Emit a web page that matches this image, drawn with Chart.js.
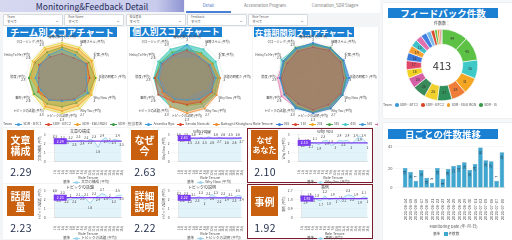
<!DOCTYPE html>
<html>
<head>
<meta charset="utf-8">
<script src="https://cdn.jsdelivr.net/npm/chart.js@4.4.0/dist/chart.umd.min.js"></script>
<style>
  body { margin:0; width:512px; height:240px; overflow:hidden; background:#f3f4f6; position:relative;
         font-family:"Noto Sans CJK JP","Noto Sans",sans-serif; }
  .abs { position:absolute; }
  .card { position:absolute; background:#fff; }
  .ttl { position:absolute; background:#1b7fd2; color:#fff; font-weight:bold; text-align:center;
         height:10px; line-height:10px; white-space:nowrap; overflow:hidden; }
  .flt { position:absolute; top:14px; height:10px; width:58px; background:#fff; border:1px solid #d6d9de; border-radius:1px; }
  .flt .l { position:absolute; left:3px; top:0px; font-size:3px; color:#666; line-height:4px; }
  .flt .v { position:absolute; left:3px; top:4px; font-size:3.5px; color:#333; line-height:5px; }
  .flt .c { position:absolute; right:3px; top:1px; font-size:5px; color:#666; }
  .leg { position:absolute; font-size:3.6px; color:#555; white-space:nowrap; overflow:hidden; line-height:5px; }
  .leg i { display:inline-block; width:7px; height:1px; vertical-align:middle; margin:0 1px 0 3px; position:relative; }
  .leg i:after { content:""; position:absolute; left:2px; top:-1px; width:3px; height:3px; border-radius:50%; background:inherit; }
  .leg b { display:inline-block; width:3.5px; height:3.5px; border-radius:50%; vertical-align:middle; margin:0 1px 0 3px; }
  .kbox { position:absolute; background:#c9600f; color:#fff; font-weight:bold; font-size:10px; line-height:11px;
          text-align:center; display:flex; align-items:center; justify-content:center; }
  .kval { position:absolute; font-size:10.5px; color:#1e2a48; text-align:center; letter-spacing:0.3px; }
</style>
</head>
<body>
<div id="root"></div>
<script>
// --- Datos ---
const filterNames = ['Team', 'Role Name', '担当者名', 'Feedback', 'Role Tenure'];
const tabNames = ['Detail', 'Acceleration Program', 'Correlation_SDR Stage9'];

const radarAxes = ['質問の振り方 (平均)', '傾聴スキル (平均)', '提案 (平均)', '主題の明確さ (平均)', 'Why Now (平均)',
  'Why You (平均)', 'トピックの説明 (平均)', 'トピックの話題 (平均)', '事例 (平均)', '態度 (平均)',
  'Hello/To Me (平均)', 'クロージング (平均)'];
const radarAxisNotes = ['3', '3', '3', '3', '3', '2.7', '2.8', '2.8', '2.6', '2.8', '2.6', '2.8'];

const teamNames = ['SDR - BTC1', 'SDR - BTC2', 'SDR - EBU RGN', 'SDR - IS', 'SDR - ENT'];
const teamColors = ['#3a9ad6', '#d9472b', '#f0a02a', '#3c9a4a', '#e6d23a'];
const teamBtc1 = [2.6, 2.4, 2.5, 2.2, 2.7, 2.3, 2.1, 2.3, 2.2, 2.4, 2.3, 2.4];
const teamBtc2 = [2.2, 2.1, 2.6, 2.5, 2.4, 2.2, 2.0, 2.3, 2.5, 2.1, 2.4, 2.2];
const teamEbu  = [3.0, 3.0, 3.1, 2.9, 3.0, 2.9, 3.0, 3.0, 2.4, 2.8, 2.9, 3.0];
const teamIs   = [2.8, 2.7, 2.8, 3.0, 2.8, 2.6, 2.6, 2.7, 2.9, 3.0, 2.8, 2.7];
const teamEnt  = [3.2, 3.2, 3.2, 3.1, 3.1, 3.2, 3.2, 3.2, 3.0, 3.0, 3.1, 3.2];

const personNames = ['Amerika Ryo', 'Sendo Natsuki', 'Battaghi Khatglonas', 'Kato Yui', 'Mori Ken', 'Aoki Rin'];
const personColors = ['#3a9ad6', '#d9472b', '#f08c30', '#5ab04a', '#e2e23a', '#3cc8b8'];
const personA = [3.0, 2.2, 2.4, 2.6, 2.5, 2.2, 2.0, 2.2, 2.4, 2.6, 2.7, 2.5];
const personB = [2.5, 2.2, 2.3, 2.4, 2.6, 2.5, 2.4, 2.5, 3.0, 2.9, 2.6, 2.4];
const personC = [2.4, 2.5, 2.6, 3.0, 3.1, 3.2, 3.2, 3.0, 2.6, 2.4, 2.5, 2.4];
const personD = [2.6, 2.6, 2.7, 2.8, 2.9, 2.7, 2.5, 2.4, 2.5, 2.9, 2.8, 2.7];
const personE = [1.7, 2.2, 2.3, 2.2, 2.0, 1.5, 1.8, 2.0, 2.1, 2.3, 2.3, 2.1];
const personF = [3.0, 3.0, 3.0, 3.0, 3.0, 3.0, 3.0, 3.0, 3.0, 3.0, 3.0, 3.0];

const tenureNames = ['0日', '1日', '2日', '3日', '4日', '5日', '6日', '7日', '8日'];
const tenureColors = ['#3a7fd5', '#d9472b', '#f2a81c', '#4aa54a', '#45c7c7', '#3a9ad6', '#e070a8', '#f08c30', '#7bc043'];
const tenure0 = [3.1, 3.0, 3.1, 3.2, 3.0, 3.1, 3.1, 3.0, 2.9, 2.9, 3.0, 3.0];
const tenure1 = [2.7, 2.8, 2.8, 2.7, 2.8, 2.7, 2.8, 2.6, 2.7, 2.8, 2.6, 2.7];
const tenure2 = [2.8, 2.9, 2.9, 2.8, 2.8, 2.8, 2.9, 2.8, 2.8, 2.8, 2.8, 2.8];
const tenure3 = [3.0, 3.1, 3.0, 2.9, 3.0, 3.1, 3.0, 3.0, 2.9, 2.8, 3.0, 3.1];
const tenure4 = [3.0, 2.9, 3.0, 3.0, 2.9, 2.8, 2.9, 2.9, 2.8, 2.9, 3.2, 3.0];
const tenure5 = [2.9, 3.0, 3.1, 3.1, 2.9, 2.9, 3.0, 3.1, 2.8, 2.9, 2.9, 2.9];
const tenure6 = [2.8, 2.8, 2.9, 2.9, 2.9, 3.0, 3.0, 3.0, 3.2, 3.1, 3.0, 2.8];

const donutCounts = [49, 45, 35, 31, 28, 27, 25, 25, 20, 16, 17, 15, 14, 13, 12, 11, 9, 7, 5, 4, 3, 2];
const donutColors = ['#5cc144', '#5cc144', '#3ec9c6', '#f5a623', '#ee7d3a', '#2f8f5b', '#f1d12e', '#3a8a5a',
  '#d45fa6', '#f0d020', '#e04868', '#3a78d8', '#f5a030', '#40c0c8', '#e070b0', '#4080e0', '#7ab8e8',
  '#d9472b', '#5cc144', '#f08c30', '#d9472b', '#aaaaaa'];
const donutTotal = '413';

const dailyDates = ['2021-06-14', '2021-06-15', '2021-06-16', '2021-06-17', '2021-06-18', '2021-06-21', '2021-06-22',
  '2021-06-23', '2021-06-24', '2021-06-25', '2021-06-28', '2021-06-29', '2021-06-30', '2021-07-01', '2021-07-02',
  '2021-07-05', '2021-07-06', '2021-07-07', '2021-07-08'];
const dailyCounts = [20, 16, 7, 18, 10, 5, 20, 9, 19, 22, 23, 26, 18, 24, 41, 28, 27, 7, 36];

const tenureTicks = ['1月', '2月', '3月', '4月', '5月', '6月', '7月', '8月', '9月', '10月', '11月', '12月', '13月', '14月', '15月', '16月', '17月', '18月'];
const kpiLabels = ['文章<br>構成', 'なぜ<br>今', 'なぜ<br>あなた', '話題<br>量', '詳細<br>説明', '事例'];
const kpiValues = [2.29, 2.63, 2.10, 2.23, 2.22, 1.92];
const lineTitles = ['文章の構成', 'Why Now', 'Why You', 'トピックの話題', 'トピックの説明', '事例'];
const scoreKousei   = [2.3, 2.5, 2.2, 2.5, 2.2, 2.3, 2.3, 2.4, 2.2, 2.5, 2.3, 1.6, 2.4, 2.7, 2.0, 2.5, 2.4, 2.3];
const scoreWhyNow   = [2.6, 2.8, 2.5, 2.5, 2.6, 2.5, 2.7, 2.5, 2.8, 2.6, 2.6, 2.7, 2.6, 2.6, 2.5, 2.6, 2.6, 2.7];
const scoreWhyYou   = [2.0, 2.2, 1.9, 2.1, 2.1, 1.9, 2.3, 2.4, 1.8, 2.0, 2.4, 2.3, 2.4, 2.0, 2.4, 2.9, 2.4, 2.0];
const scoreWadai    = [2.6, 2.3, 2.3, 2.2, 2.0, 2.2, 2.1, 2.5, 2.1, 1.6, 2.2, 2.4, 2.7, 2.5, 2.0, 2.2, 2.5, 2.5];
const scoreSetsumei = [2.2, 2.3, 2.2, 2.2, 2.1, 2.3, 2.3, 2.0, 2.2, 2.6, 2.3, 2.2, 2.2, 2.4, 2.1, 2.3, 2.5, 2.4];
const scoreJirei    = [1.7, 1.9, 1.9, 2.1, 1.8, 1.7, 2.2, 1.8, 1.9, 2.0, 1.6, 2.1, 2.3, 2.2, 1.9, 1.9, 2.1, 2.0];
const lineScores = [scoreKousei, scoreWhyNow, scoreWhyYou, scoreWadai, scoreSetsumei, scoreJirei];
const lineMax = [3, 3, 3, 3, 3, 2.7];
const lineStep = [1, 1, 1, 1, 1, 0.9];

// --- Defaults ---
const FONT = '"Noto Sans CJK JP","Noto Sans",sans-serif';
Chart.defaults.font.family = FONT;
Chart.defaults.font.size = 4;
Chart.defaults.color = '#555';
Chart.defaults.animation = false;
Chart.defaults.maintainAspectRatio = false;
Chart.defaults.plugins.legend.display = false;
Chart.defaults.plugins.tooltip.enabled = false;

const root = document.getElementById('root');
function el(tag, cls, css, html) {
  const d = document.createElement(tag);
  if (cls) d.className = cls;
  if (css) d.style.cssText = css;
  if (html !== undefined) d.innerHTML = html;
  root.appendChild(d);
  return d;
}
function canvasAt(x, y, w, h) {
  const box = el('div', 'abs', `left:${x}px;top:${y}px;width:${w}px;height:${h}px;`);
  const c = document.createElement('canvas');
  box.appendChild(c);
  return c;
}

// --- Plugins propios ---
const valueLabels = {
  id: 'valueLabels',
  afterDatasetsDraw(chart, args, o) {
    if (!o || !o.mode) return;
    const ctx = chart.ctx;
    ctx.save();
    ctx.font = `${o.size || 3.5}px ${FONT}`;
    ctx.fillStyle = o.color || '#333';
    ctx.textAlign = 'center';
    ctx.textBaseline = 'middle';
    const ds = chart.data.datasets[0];
    chart.getDatasetMeta(0).data.forEach((e, i) => {
      const v = ds.data[i];
      if (o.mode === 'arc') {
        if (v < 13) return;
        const p = e.tooltipPosition();
        ctx.fillText(v, p.x, p.y);
      } else if (o.mode === 'bar') {
        ctx.save();
        ctx.translate(e.x, e.y + (v < 8 ? -4 : 5));
        ctx.rotate(-Math.PI / 2);
        ctx.fillText(v, 0, 0);
        ctx.restore();
      } else {
        ctx.fillText(v, e.x, e.y + (i % 2 ? 4 : -4));
      }
    });
    ctx.restore();
  }
};
const refLine = {
  id: 'refLine',
  afterDatasetsDraw(chart, args, o) {
    if (!o || o.value === undefined) return;
    const ctx = chart.ctx, a = chart.chartArea;
    const y = chart.scales.y.getPixelForValue(o.value);
    ctx.save();
    ctx.strokeStyle = '#7b3cf0';
    ctx.lineWidth = 1.2;
    ctx.beginPath(); ctx.moveTo(a.left, y); ctx.lineTo(a.right, y); ctx.stroke();
    ctx.fillStyle = '#7b3cf0';
    ctx.fillRect(a.left - 1, y - 3, 13, 6);
    ctx.fillStyle = '#fff';
    ctx.font = `3.5px ${FONT}`;
    ctx.textAlign = 'center'; ctx.textBaseline = 'middle';
    ctx.fillText(o.value.toFixed(2), a.left + 5.5, y);
    ctx.restore();
  }
};
const centerText = {
  id: 'centerText',
  afterDraw(chart, args, o) {
    if (!o || !o.text) return;
    const a = chart.chartArea, ctx = chart.ctx;
    ctx.save();
    ctx.font = `11px ${FONT}`;
    ctx.fillStyle = '#333';
    ctx.textAlign = 'center'; ctx.textBaseline = 'middle';
    ctx.fillText(o.text, (a.left + a.right) / 2, (a.top + a.bottom) / 2 + 1);
    ctx.restore();
  }
};
Chart.register(valueLabels, refLine, centerText);

function alpha(hex, a) {
  const n = parseInt(hex.slice(1), 16);
  return `rgba(${n >> 16},${(n >> 8) & 255},${n & 255},${a})`;
}

// --- Cabecera ---
el('div', 'abs', 'left:0;top:0;width:184px;height:12px;background:linear-gradient(90deg,#d6d8f0,#c8cbec 85%,#8e94d2);' +
  'color:#262a58;font-size:8.5px;line-height:12px;text-align:center;', 'Monitoring&amp;Feedback Detail');
el('div', 'abs', 'left:185px;top:0;width:195px;height:13px;background:#fff;');
const tabX = [186, 232, 300];
const tabW = [45, 66, 70];
tabNames.forEach((t, i) => {
  el('div', 'abs', `left:${tabX[i]}px;top:2px;width:${tabW[i]}px;text-align:center;font-size:4.2px;line-height:6px;color:${i === 0 ? '#4a78c8' : '#777'};`, t);
});
el('div', 'abs', 'left:186px;top:11px;width:45px;height:1.5px;background:#4a7fd8;');
el('div', 'abs', 'left:380px;top:0;width:132px;height:240px;background:#f6f7f9;');

filterNames.forEach((f, i) => {
  const d = el('div', 'flt', `left:${3 + i * 61.3}px;`);
  d.innerHTML = `<span class="l">${f}</span><span class="v">すべて</span><span class="c">⌄</span>`;
});

// --- Radares ---
function radarPanel(x, w, title, tx, tw, tsize, names, colors, series, alphas, legendTitle, rMax) {
  el('div', 'card', `left:${x}px;top:27px;width:${w}px;height:100px;`);
  el('div', 'ttl', `left:${tx}px;top:27px;width:${tw}px;font-size:${tsize}px;`, title);
  const c = canvasAt(x - 4, 35, w + 8, 87);
  new Chart(c, {
    type: 'radar',
    data: {
      labels: radarAxes.map((a, i) => [a, radarAxisNotes[i]]),
      datasets: series.map((s, i) => ({
        label: names[i], data: s,
        borderColor: colors[i], backgroundColor: alpha(colors[i], alphas[i]),
        borderWidth: 0.7, pointRadius: 0.9, pointBackgroundColor: colors[i], pointBorderWidth: 0, fill: true
      }))
    },
    options: {
      layout: { padding: 0 },
      scales: {
        r: {
          min: 0, max: rMax, ticks: { display: false, stepSize: 1 },
          grid: { color: '#e2e2e2', lineWidth: 0.5 }, angleLines: { color: '#e2e2e2', lineWidth: 0.5 },
          pointLabels: { font: { size: 3.1, lineHeight: 1.05 }, color: '#444', padding: 0 }
        }
      }
    }
  });
  const items = names.map((n, i) => `<i style="background:${colors[i]}"></i>${n}`).join('');
  el('div', 'leg', `left:${x}px;top:121px;width:${w}px;`, legendTitle + items);
}
radarPanel(3, 124, 'チーム別スコアチャート', 7, 110, 9.5, teamNames, teamColors,
  [teamBtc1, teamBtc2, teamEbu, teamIs, teamEnt], [0.35, 0.35, 0.4, 0.4, 0.45], 'Team', 3.3);
radarPanel(128, 124, '個人別スコアチャート', 130, 92, 8.8, personNames, personColors,
  [personA, personB, personC, personD, personE, personF], [0.35, 0.35, 0.45, 0.35, 0.6, 0.65], '担当者名', 3.3);
radarPanel(253, 125, '在籍期間別スコアチャート', 254, 100, 8.2, tenureNames, tenureColors,
  [tenure0, tenure1, tenure2, tenure3, tenure4, tenure5, tenure6], [0.35, 0.35, 0.8, 0.4, 0.4, 0.35, 0.35], 'Role Tenure', 3.2);

// --- Donut ---
el('div', 'card', 'left:383px;top:3px;width:129px;height:115px;box-shadow:0 0 1px #ccc;');
el('div', 'ttl', 'left:388px;top:8px;width:110px;font-size:9.5px;', 'フィードバック件数');
el('div', 'abs', 'left:383px;top:20px;width:118px;text-align:center;font-size:4px;color:#444;', '件数数：');
new Chart(canvasAt(406, 29, 72, 72), {
  type: 'doughnut',
  data: { labels: donutCounts.map((v, i) => 'SDR ' + (i + 1)), datasets: [{ data: donutCounts, backgroundColor: donutColors, borderColor: '#fff', borderWidth: 0.6 }] },
  options: { cutout: '58%', plugins: { valueLabels: { mode: 'arc', size: 3.5, color: '#333' }, centerText: { text: donutTotal } } }
});
el('div', 'leg', 'left:383px;top:102px;width:129px;', 'Team' +
  teamNames.slice(0, 4).map((n, i) => `<b style="background:${teamColors[i]}"></b>${n}`).join(''));

// --- Barras ---
el('div', 'card', 'left:383px;top:123px;width:129px;height:117px;box-shadow:0 0 1px #ccc;');
el('div', 'ttl', 'left:388px;top:129px;width:110px;font-size:9.5px;', '日ごとの件数推移');
new Chart(canvasAt(386, 142, 124, 88), {
  type: 'bar',
  data: { labels: dailyDates, datasets: [{ label: '件数数', data: dailyCounts, backgroundColor: '#3ea6cf', borderColor: '#2f8fb8', borderWidth: 0.5, categoryPercentage: 0.9, barPercentage: 0.95 }] },
  options: {
    layout: { padding: { top: 3 } },
    scales: {
      y: { min: 0, max: 42, ticks: { stepSize: 20, font: { size: 4 }, padding: 2 }, grid: { color: '#eee', lineWidth: 0.5 }, border: { display: false } },
      x: { ticks: { font: { size: 4.2 }, minRotation: 90, maxRotation: 90, autoSkip: false }, grid: { display: false },
           title: { display: true, text: 'Monitoring Date (年-月-日)', font: { size: 4 }, padding: 1 } }
    },
    plugins: { valueLabels: { mode: 'bar', size: 3.3, color: '#1f3a4a' } }
  }
});
el('div', 'leg', 'left:433px;top:231px;width:60px;', '基準 <b style="background:#3ea6cf;border-radius:0"></b>件数数');

// --- KPI + lineas ---
const colX = [3, 127, 247];
const colW = [124, 120, 126];
const rowY = [128, 184];
kpiLabels.forEach((k, i) => {
  const col = i % 3, row = Math.floor(i / 3);
  const x = colX[col], y = rowY[row], w = colW[col];
  el('div', 'card', `left:${x}px;top:${y}px;width:${w}px;height:55px;` + (col === 2 ? 'border:1px solid #7b1c2c;box-sizing:border-box;' : ''));
  el('div', 'kbox', `left:${x + 4}px;top:${y + 2}px;width:27px;height:30px;` + (k.length >= 9 ? 'font-size:8px;line-height:10px;' : ''), k);
  el('div', 'kval', `left:${x + 2}px;top:${y + 36}px;width:32px;`, kpiValues[i].toFixed(2));
  const c = canvasAt(x + 34, y, w - 36, 52);
  new Chart(c, {
    type: 'line',
    data: { labels: tenureTicks, datasets: [{ label: lineTitles[i] + ' (平均)', data: lineScores[i], borderColor: '#9fd3ee', backgroundColor: 'rgba(200,232,246,0.5)', borderWidth: 1, pointRadius: 0, fill: 'origin', tension: 0 }] },
    options: {
      layout: { padding: { right: 2 } },
      scales: {
        y: { min: 0, max: lineMax[i], ticks: { stepSize: lineStep[i], font: { size: 3.4 }, padding: 1 }, grid: { color: '#eee', lineWidth: 0.5 },
             title: { display: true, text: lineTitles[i] + ' (平均)', font: { size: 3.2 }, padding: 1 } },
        x: { ticks: { font: { size: 2.8 }, minRotation: 90, maxRotation: 90, autoSkip: false, padding: 0 }, grid: { display: false },
             title: { display: true, text: 'Role Tenure', font: { size: 3.6 }, padding: 0 } }
      },
      plugins: {
        title: { display: true, text: lineTitles[i], font: { size: 4, weight: 'normal' }, color: '#444', padding: { top: 1, bottom: 1 } },
        valueLabels: { mode: 'line', size: 3, color: '#444' },
        refLine: { value: kpiValues[i] }
      }
    }
  });
  el('div', 'leg', `left:${x + 60}px;top:${y + 51}px;width:${w - 60}px;`, '基準<i style="background:#9fd3ee"></i>' + lineTitles[i] + ' (平均)');
});
</script>
</body>
</html>
